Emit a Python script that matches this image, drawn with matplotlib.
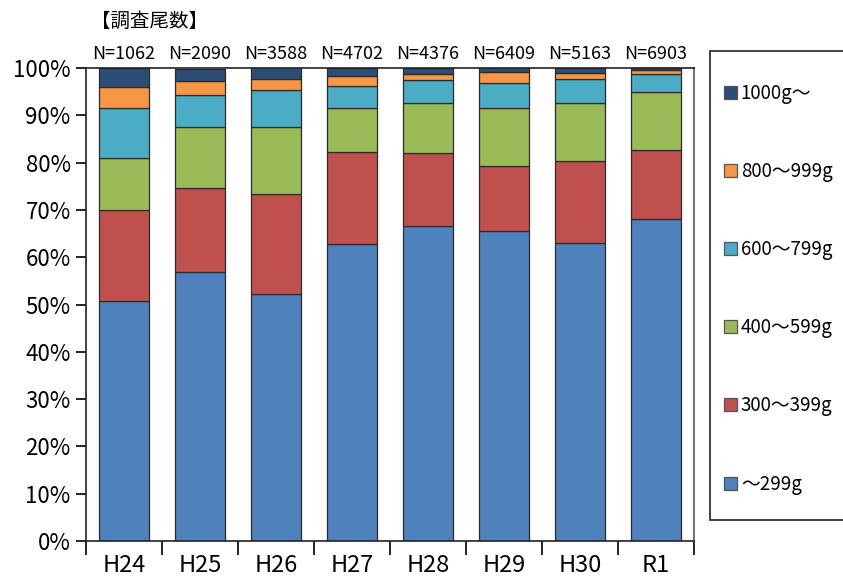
#!/usr/bin/env python3

import matplotlib
matplotlib.use('Agg')
import matplotlib.pyplot as plt
from matplotlib.patches import Rectangle
import numpy as np

plt.rcParams['font.family'] = ['Noto Sans CJK JP', 'DejaVu Sans']

years = ['H24', 'H25', 'H26', 'H27', 'H28', 'H29', 'H30', 'R1']
counts = [1062, 2090, 3588, 4702, 4376, 6409, 5163, 6903]

# share of each weight class (%), bottom to top
w_0_299 = [50.8, 56.9, 52.2, 62.7, 66.7, 65.5, 62.9, 68.1]
w_300_399 = [19.1, 17.8, 21.1, 19.5, 15.3, 13.8, 17.4, 14.6]
w_400_599 = [11.1, 12.9, 14.2, 9.3, 10.6, 12.3, 12.3, 12.3]
w_600_799 = [10.6, 6.7, 7.8, 4.7, 4.8, 5.3, 5.0, 3.7]
w_800_999 = [4.4, 2.9, 2.4, 2.2, 1.4, 2.2, 1.3, 0.9]
w_1000 = [4.0, 2.6, 2.7, 1.6, 1.2, 1.5, 1.1, 0.4]

series = [
    ('～299g', w_0_299, '#4F81BD'),
    ('300～399g', w_300_399, '#C0504D'),
    ('400～599g', w_400_599, '#9BBB59'),
    ('600～799g', w_600_799, '#4BACC6'),
    ('800～999g', w_800_999, '#F79646'),
    ('1000g～', w_1000, '#2C4D75'),
]

W, H = 843, 584
fig = plt.figure(figsize=(W / 100, H / 100), dpi=100)
ax = fig.add_axes([86 / W, 43 / H, 608 / W, 473 / H])

x = np.arange(len(years))
bottom = np.zeros(len(years))
handles = []
for name, vals, color in series:
    b = ax.bar(x, vals, 0.645, bottom=bottom, color=color,
               edgecolor='#2b2b2b', linewidth=0.9, label=name)
    handles.append(b)
    bottom += np.array(vals)

ax.set_xlim(-0.5, len(years) - 0.5)
ax.set_ylim(0, 100)
ax.set_yticks(np.arange(0, 101, 10))
ax.set_yticklabels([f'{v}%' for v in range(0, 101, 10)], fontsize=16)
ax.tick_params(axis='y', length=7, width=1.2, direction='out', pad=4)

# ticks on category borders, labels in the middle
ax.set_xticks(np.arange(-0.5, len(years), 1))
ax.set_xticklabels([])
ax.set_xticks(x, minor=True)
ax.set_xticklabels(years, minor=True, fontsize=17)
ax.tick_params(axis='x', which='major', length=10, width=1.2, direction='out')
ax.tick_params(axis='x', which='minor', length=0, pad=9)

for side in ['left', 'bottom', 'top']:
    ax.spines[side].set_linewidth(1.2)
    ax.spines[side].set_color('#222222')
ax.spines['right'].set_color('#777777')
ax.spines['right'].set_linewidth(1.5)

for i, n in enumerate(counts):
    ax.text(i, 101.0, f'N={n}', ha='center', va='bottom', fontsize=13)

fig.text(91 / W, 1 - 21 / H, '【調査尾数】', fontsize=14,
         va='center', ha='left')

# legend box drawn separately so the entries can sit inside it freely
fig.patches.append(Rectangle((710 / W, 1 - 520 / H), 140 / W, 469 / H,
                             transform=fig.transFigure, facecolor='white',
                             edgecolor='#222222', linewidth=1.2, zorder=0))
leg = fig.legend(handles[::-1], [s[0] for s in series[::-1]],
                 loc='upper left', bbox_to_anchor=(724 / W, 1 - 82.7 / H),
                 borderaxespad=0, borderpad=0, fontsize=13.5, labelspacing=3.05,
                 handlelength=0.7, handleheight=0.7, handletextpad=0.2,
                 frameon=False)
for h in leg.legend_handles:
    h.set_edgecolor('#555555')

plt.savefig('out.png', dpi=100)
